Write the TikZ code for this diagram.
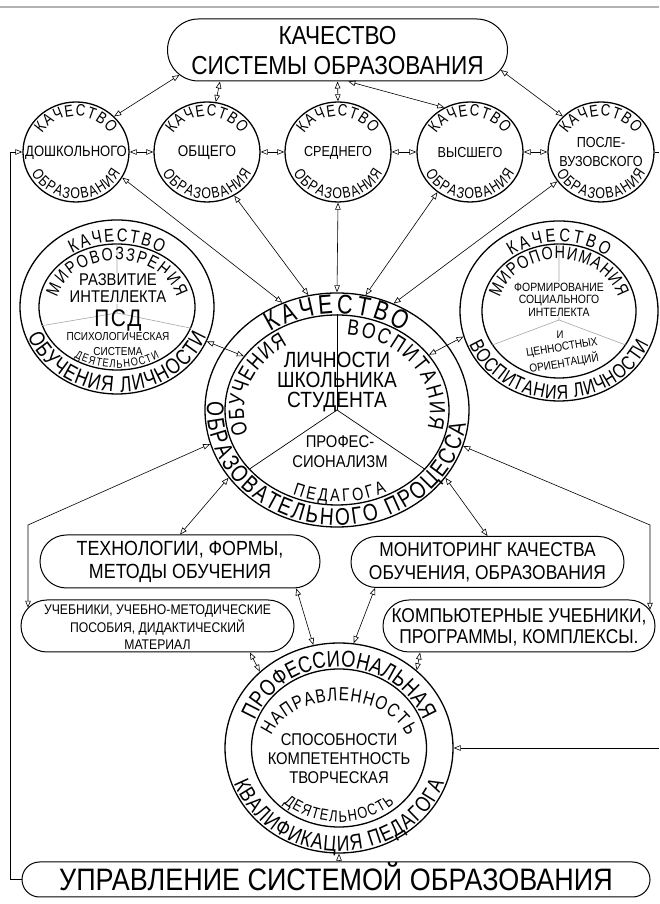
\documentclass[tikz,border=0pt]{standalone}
\usepackage{fontspec}
\setmainfont{Liberation Sans}[FakeStretch=0.87]
\newfontfamily\arcf{Liberation Sans}[FakeStretch=0.8]
\usetikzlibrary{decorations.text,shapes.geometric,shapes.misc,arrows.meta}
\newcommand\fsz[2]{\fontsize{#1}{#2}\selectfont}
% #1 node, #2 start angle, #3 end angle, #4 x radius, #5 y radius, #6 size, #7 text
\newcommand\ctext[7]{\path[decorate,decoration={text along path,text align=fit to path,text={|\arcf\fsz{#6}{#6}|#7}}] (#1) ++(#2:#4pt and #5pt) arc[start angle=#2,end angle=#3,x radius=#4pt,y radius=#5pt];}
\begin{document}
\begin{tikzpicture}[x=1pt,y=1pt,
  ring/.style={draw, ellipse, inner sep=0pt, line width=1.3pt},
  box/.style={draw, rounded rectangle, inner sep=0pt, line width=1pt},
  lbl/.style={inner sep=0pt, align=center},
  wlbl/.style={lbl, fill=white, inner sep=1pt},
  conn/.style={line width=0.6pt},
  dbl/.style={conn,{Triangle[open,length=7pt,width=5.5pt]}-{Triangle[open,length=7pt,width=5.5pt]}},
  sgl/.style={conn,-{Triangle[open,length=7pt,width=5.5pt]}},
  divider/.style={line width=0.6pt, black!35},
  spoke/.style={line width=0.7pt}]
\useasboundingbox (0,0) rectangle (659,904);
\draw[gray!60, line width=2.5pt] (0,897) -- (659,897);

% ---------- top box
\node[box, minimum width=340pt, minimum height=62pt] (top) at (337.5,854) {};
\node[lbl, font=\fsz{26}{30}] (toptxt) at (337.5,853) {КАЧЕСТВО\\СИСТЕМЫ ОБРАЗОВАНИЯ};

% ---------- small circles
\node[ring, minimum width=106pt, minimum height=100pt] (c1) at (76,752) {};
\node[ring, minimum width=106pt, minimum height=100pt] (c2) at (207,752) {};
\node[ring, minimum width=106pt, minimum height=100pt] (c3) at (338,752) {};
\node[ring, minimum width=106pt, minimum height=100pt] (c4) at (470,752) {};
\node[ring, minimum width=106pt, minimum height=100pt] (c5) at (601,752) {};
\foreach \n in {c1,c2,c3,c4,c5}{
  \ctext{\n}{150}{30}{39}{36}{16.5}{КАЧЕСТВО}
  \ctext{\n}{207}{333}{50}{47}{15.5}{ОБРАЗОВАНИЯ}
}
\node[lbl, font=\fsz{15}{15}] (t1) at (76,751) {ДОШКОЛЬНОГО};
\node[lbl, font=\fsz{15.5}{15}] (t2) at (207,751) {ОБЩЕГО};
\node[lbl, font=\fsz{14.5}{14}] (t3) at (338,751) {СРЕДНЕГО};
\node[lbl, font=\fsz{14.5}{14}] (t4) at (470,751) {ВЫСШЕГО};
\node[lbl, font=\fsz{14.5}{19}] (t5) at (601,752) {ПОСЛЕ-\\ВУЗОВСКОГО};

% ---------- left big circle
\node[ring, minimum width=194pt, minimum height=174pt] (LB) at (117,597) {};
\node[ring, minimum width=156pt, minimum height=126pt] (LBi) at (117,597) {};
\coordinate (j1) at (117,591);
\draw[divider] (LBi.90) -- (j1) -- (LBi.194);
\draw[divider] (j1) -- (LBi.344);
\ctext{LB}{124}{56}{80}{65}{18.5}{КАЧЕСТВО}
\ctext{LB}{200}{340}{95}{85}{22}{ОБУЧЕНИЯ ЛИЧНОСТИ}
\ctext{LB}{168}{12}{61}{47}{18}{МИРОВОЗЗРЕНИЯ}
\ctext{LB}{236}{304}{76}{61}{11.5}{ДЕЯТЕЛЬНОСТИ}
\node[wlbl, font=\fsz{17}{17}] (lb1) at (118,615.5) {РАЗВИТИЕ\\ИНТЕЛЛЕКТА};
\node[lbl, font=\fsz{24}{24}] (lb2) at (118,583) {П\kern1.5ptС\kern1.5ptД};
\node[lbl, font=\fsz{11.5}{15}] (lb3) at (118,560) {ПСИХОЛОГИЧЕСКАЯ\\СИСТЕМА};

% ---------- right big circle
\node[ring, minimum width=198pt, minimum height=180pt] (RB) at (559,593) {};
\node[ring, minimum width=154pt, minimum height=134pt] (RBi) at (559,593) {};
\coordinate (j2) at (559,584);
\draw[divider] (RBi.90) -- (j2) -- (RBi.207);
\draw[divider] (j2) -- (RBi.333);
\ctext{RB}{127}{53}{79}{69}{18.5}{КАЧЕСТВО}
\ctext{RB}{202}{338}{97}{88}{20}{ВОСПИТАНИЯ ЛИЧНОСТИ}
\ctext{RB}{165}{15}{61}{52}{18}{МИРОПОНИМАНИЯ}
\node[wlbl, font=\fsz{12}{12.5}] (rb1) at (559,604.5) {ФОРМИРОВАНИЕ\\СОЦИАЛЬНОГО\\ИНТЕЛЕКТА};
\node[lbl, font=\fsz{11}{11}] (rb2) at (560,569) {И};
\node[lbl, font=\fsz{11.5}{11}, rotate=9] (rb3) at (562,556) {ЦЕННОСТНЫХ};
\node[lbl, font=\fsz{11.5}{11}, rotate=9] (rb4) at (564,541) {ОРИЕНТАЦИЙ};

% ---------- central circle
\node[ring, minimum width=264pt, minimum height=234pt] (CC) at (337,494) {};
\node[ring, minimum width=224pt, minimum height=190pt] (CCm) at (337,494) {};
\draw[spoke] (CC.center) -- (CCm.90);
\draw[spoke] (CC.center) -- (CCm.214);
\draw[spoke] (CC.center) -- (CCm.326);
\ctext{CC}{126}{54}{113}{96.5}{27}{КАЧЕСТВО}
\ctext{CC}{176}{353}{130}{115}{24}{ОБРАЗОВАТЕЛЬНОГО ПРОЦЕССА}
\ctext{CC}{198}{122}{93}{76}{22}{ОБУЧЕНИЯ}
\ctext{CC}{84}{-14}{93}{76}{22}{ВОСПИТАНИЯ}
\ctext{CC}{246}{297}{109}{92}{18}{ПЕДАГОГА}
\node[lbl, font=\fsz{22}{20}] (cc1) at (337,521.5) {ЛИЧНОСТИ\\ШКОЛЬНИКА\\СТУДЕНТА};
\node[lbl, font=\fsz{17}{20}] (cc2) at (340,452) {ПРОФЕС-\\СИОНАЛИЗМ};

% ---------- middle boxes
\node[box, minimum width=280pt, minimum height=53pt] (tech) at (180,342.5) {};
\node[lbl, font=\fsz{20.5}{23}] (techt) at (180,342.5) {ТЕХНОЛОГИИ, ФОРМЫ,\\МЕТОДЫ ОБУЧЕНИЯ};
\node[box, minimum width=273pt, minimum height=51pt] (mon) at (487.5,342) {};
\node[lbl, font=\fsz{20}{23}] (mont) at (487.5,342) {МОНИТОРИНГ КАЧЕСТВА\\ОБУЧЕНИЯ, ОБРАЗОВАНИЯ};
\node[box, minimum width=273pt, minimum height=52pt] (ucheb) at (157.5,278) {};
\node[lbl, font=\fsz{14}{17.5}] (uchebt) at (157.5,276.5) {УЧЕБНИКИ, УЧЕБНО-МЕТОДИЧЕСКИЕ\\ПОСОБИЯ, ДИДАКТИЧЕСКИЙ\\МАТЕРИАЛ};
\node[box, minimum width=272pt, minimum height=52pt] (komp) at (519,278) {};
\node[lbl, font=\fsz{20}{21}] (kompt) at (519,276.5) {КОМПЬЮТЕРНЫЕ УЧЕБНИКИ,\\ПРОГРАММЫ, КОМПЛЕКСЫ.};

% ---------- bottom circle
\node[ring, minimum width=228pt, minimum height=210pt] (BC) at (339,156) {};
\node[ring, minimum width=175pt, minimum height=158pt] (BCi) at (339,156) {};
\ctext{BC}{160}{20}{89.5}{81}{23}{ПРОФЕССИОНАЛЬНАЯ}
\ctext{BC}{165}{15}{70}{47}{19}{НАПРАВЛЕННОСТЬ}
\ctext{BC}{228}{312}{83}{74}{16}{ДЕЯТЕЛЬНОСТЬ}
\ctext{BC}{200}{340}{112}{103}{22}{КВАЛИФИКАЦИЯ ПЕДАГОГА}
\node[lbl, font=\fsz{17}{19}] (bc1) at (339,145) {СПОСОБНОСТИ\\КОМПЕТЕНТНОСТЬ\\ТВОРЧЕСКАЯ};

% ---------- bottom box
\node[box, minimum width=628pt, minimum height=35pt] (upr) at (336,24.5) {};
\node[lbl, font=\fsz{31}{31}, text height=22pt, text depth=0pt] (uprt) at (336,24.5) {УПРАВЛЕНИЕ СИСТЕМОЙ ОБРАЗОВАНИЯ};

% ---------- connectors
\draw[dbl] (top.189) -- (c1.43);
\draw[dbl] (top.195) -- (c2.80);
\draw[dbl] (top.270) -- (c3.90);
\draw[dbl] (top.289) -- (c4.120);
\draw[dbl] (top.353) -- (c5.137);
\draw[dbl] (c1.east) -- (c2.west);
\draw[dbl] (c2.east) -- (c3.west);
\draw[dbl] (c3.east) -- (c4.west);
\draw[dbl] (c4.east) -- (c5.west);
\coordinate (lbot) at (10,24.5);
\draw[sgl] (upr.west) -- (lbot) |- (c1.west);
\coordinate (rtop) at (659,752);
\draw[conn] (c5.east) -- (rtop);
\coordinate (rbot) at (659,156);
\draw[sgl] (BC.east -| rbot) -- (BC.east);
\draw[dbl] (c1.331) -- (CC.117);
\draw[dbl] (c2.302) -- (CC.104);
\draw[dbl] (c3.270) -- (CC.90);
\draw[dbl] (c4.231) -- (CC.76);
\draw[dbl] (c5.214) -- (CC.62);
\draw[dbl] (LB.339) -- (CCm.150);
\draw[dbl] (RB.195) -- (CCm.31);
\coordinate (lc) at (28,379);
\draw[dbl] (CC.195) -- (lc) -- (lc |- ucheb.172);
\coordinate (rc) at (650,379);
\draw[dbl] (CC.344) -- (rc) -- (rc |- komp.7);
\draw[dbl] (CC.212) -- (tech.north);
\draw[dbl] (CC.328) -- (mon.north);
\draw[dbl] (tech.347) -- (BC.104);
\draw[dbl] (mon.193) -- (BC.82);
\draw[dbl] (ucheb.344) -- (BC.136);
\draw[dbl] (komp.195) -- (BC.45);
\draw[sgl] (BC.south |- upr.north) -- (BC.south);
\end{tikzpicture}
\end{document}
